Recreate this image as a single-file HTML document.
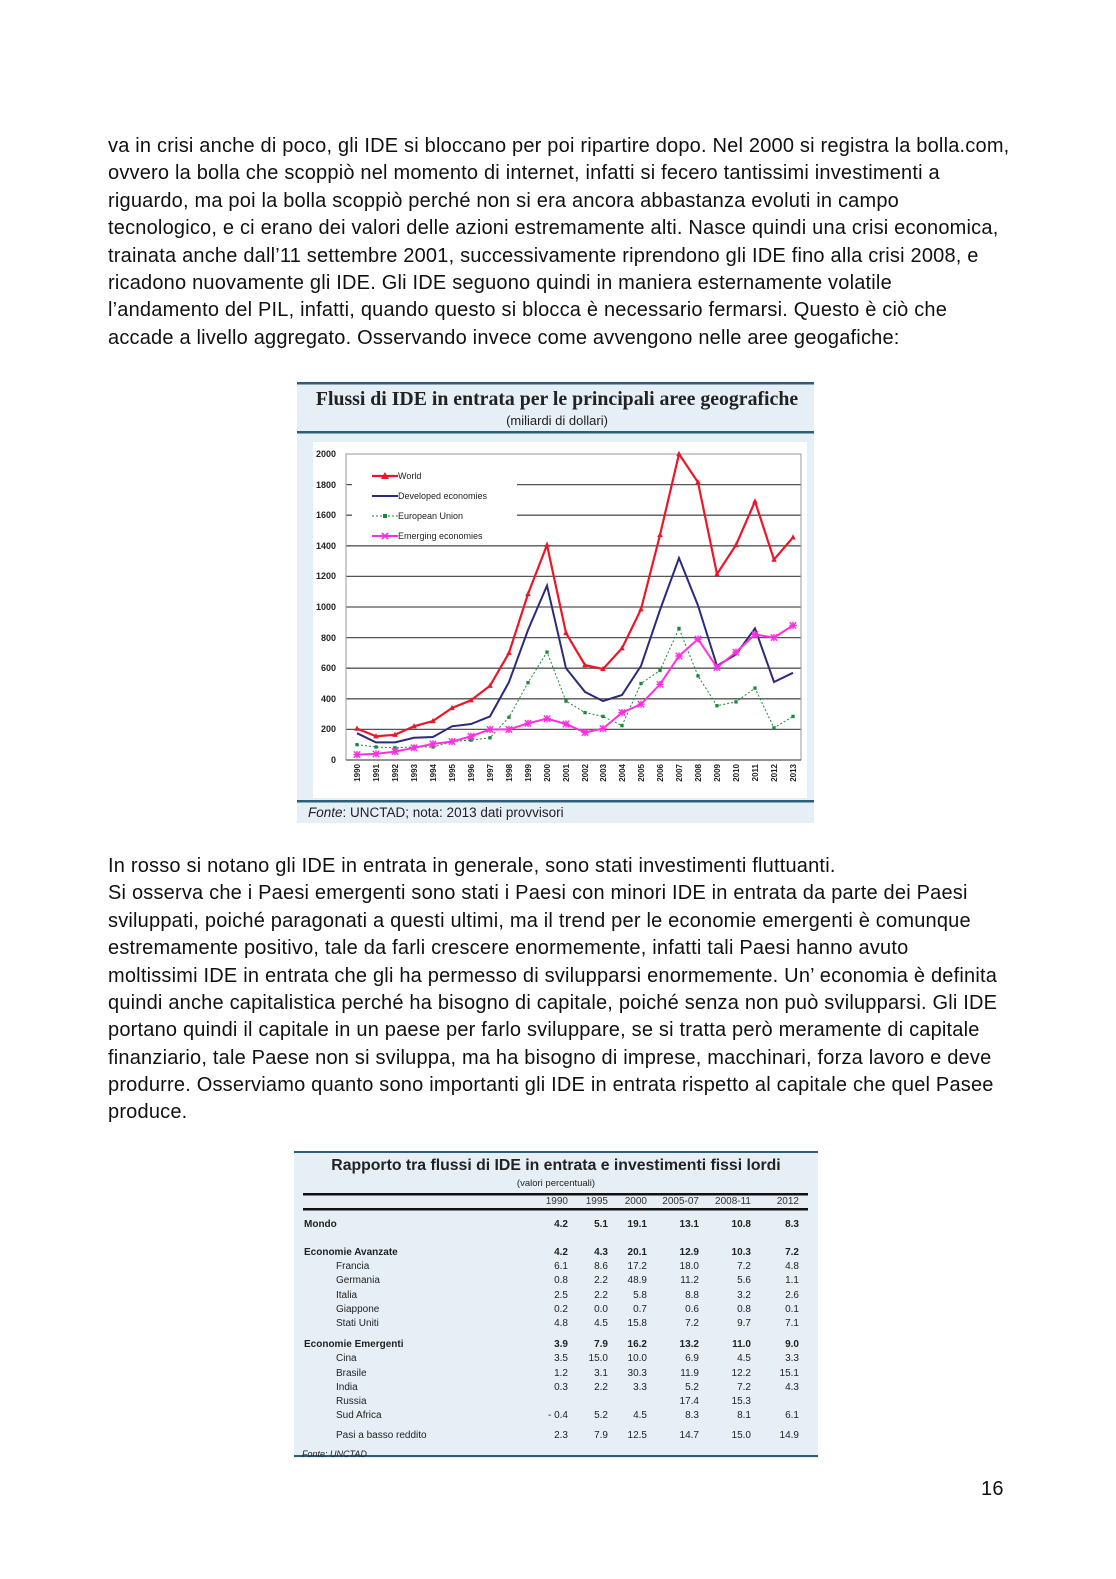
<!DOCTYPE html>
<html><head><meta charset="utf-8">
<style>
body{margin:0;background:#fff;}
#pg{position:relative;width:1116px;height:1579px;overflow:hidden;background:#fff;font-family:"Liberation Sans",sans-serif;}
.t{position:absolute;left:108px;white-space:nowrap;font-size:20px;letter-spacing:0.2px;color:#111;line-height:20px;}
</style></head><body><div id="pg">
<div class="t" style="top:136px">va in crisi anche di poco, gli IDE si bloccano per poi ripartire dopo. Nel 2000 si registra la bolla.com,</div>
<div class="t" style="top:163px">ovvero la bolla che scoppiò nel momento di internet, infatti si fecero tantissimi investimenti a</div>
<div class="t" style="top:191px">riguardo, ma poi la bolla scoppiò perché non si era ancora abbastanza evoluti in campo</div>
<div class="t" style="top:218px">tecnologico, e ci erano dei valori delle azioni estremamente alti. Nasce quindi una crisi economica,</div>
<div class="t" style="top:246px">trainata anche dall’11 settembre 2001, successivamente riprendono gli IDE fino alla crisi 2008, e</div>
<div class="t" style="top:273px">ricadono nuovamente gli IDE. Gli IDE seguono quindi in maniera esternamente volatile</div>
<div class="t" style="top:300px">l’andamento del PIL, infatti, quando questo si blocca è necessario fermarsi. Questo è ciò che</div>
<div class="t" style="top:328px">accade a livello aggregato. Osservando invece come avvengono nelle aree geogafiche:</div>

<div class="t" style="top:856px">In rosso si notano gli IDE in entrata in generale, sono stati investimenti fluttuanti.</div>
<div class="t" style="top:883px">Si osserva che i Paesi emergenti sono stati i Paesi con minori IDE in entrata da parte dei Paesi</div>
<div class="t" style="top:911px">sviluppati, poiché paragonati a questi ultimi, ma il trend per le economie emergenti è comunque</div>
<div class="t" style="top:938px">estremamente positivo, tale da farli crescere enormemente, infatti tali Paesi hanno avuto</div>
<div class="t" style="top:966px">moltissimi IDE in entrata che gli ha permesso di svilupparsi enormemente. Un’ economia è definita</div>
<div class="t" style="top:993px">quindi anche capitalistica perché ha bisogno di capitale, poiché senza non può svilupparsi. Gli IDE</div>
<div class="t" style="top:1020px">portano quindi il capitale in un paese per farlo sviluppare, se si tratta però meramente di capitale</div>
<div class="t" style="top:1048px">finanziario, tale Paese non si sviluppa, ma ha bisogno di imprese, macchinari, forza lavoro e deve</div>
<div class="t" style="top:1075px">produrre. Osserviamo quanto sono importanti gli IDE in entrata rispetto al capitale che quel Pasee</div>
<div class="t" style="top:1102px">produce.</div>
<div class="t" style="top:1479px;left:981px">16</div>

<svg style="position:absolute;left:0;top:0" width="1116" height="1579" xmlns="http://www.w3.org/2000/svg">
<defs>
<marker id="tri" viewBox="-5 -5 10 10" markerWidth="7" markerHeight="7" refX="0" refY="0" markerUnits="userSpaceOnUse"><path d="M0,-4.5 L4,3 L-4,3Z" fill="#e8182a"/></marker>
<marker id="sq" viewBox="-3 -3 6 6" markerWidth="4" markerHeight="4" refX="0" refY="0" markerUnits="userSpaceOnUse"><rect x="-2.5" y="-2.5" width="5" height="5" fill="#1a8a3a"/></marker>
<marker id="st" viewBox="-5 -5 10 10" markerWidth="8" markerHeight="8" refX="0" refY="0" markerUnits="userSpaceOnUse"><path d="M-4,-4L4,4M-4,4L4,-4M0,-4.5V4.5M-4.5,0H4.5" stroke="#ff30e0" stroke-width="1.8"/></marker>
</defs>
<rect x="297" y="383" width="517" height="440" fill="#e6eff6"/>
<rect x="297" y="382" width="517" height="2.5" fill="#2a5f7a"/>
<rect x="297" y="431" width="517" height="2.5" fill="#2a5f7a"/>
<rect x="297" y="800" width="517" height="2.5" fill="#2a5f7a"/>
<rect x="313" y="442" width="494" height="356" fill="#fff"/>
<text x="557" y="405" text-anchor="middle" font-family="Liberation Serif" font-weight="bold" font-size="19.8" fill="#222">Flussi di IDE in entrata per le principali aree geografiche</text>
<text x="557" y="425" text-anchor="middle" font-family="Liberation Sans" font-size="13" fill="#222">(miliardi di dollari)</text>
<text x="308" y="817" font-family="Liberation Sans" font-size="13.5" fill="#222"><tspan font-style="italic">Fonte</tspan>: UNCTAD; nota: 2013 dati provvisori</text>
<g stroke="#555" stroke-width="1.3">
<line x1="346" x2="801" y1="729.4" y2="729.4"/><line x1="346" x2="801" y1="698.8" y2="698.8"/>
<line x1="346" x2="801" y1="668.2" y2="668.2"/><line x1="346" x2="801" y1="637.6" y2="637.6"/>
<line x1="346" x2="801" y1="607" y2="607"/><line x1="346" x2="801" y1="576.4" y2="576.4"/>
<line x1="346" x2="801" y1="545.8" y2="545.8"/><line x1="346" x2="801" y1="515.2" y2="515.2"/>
<line x1="346" x2="801" y1="484.6" y2="484.6"/>
</g>
<rect x="352" y="462" width="165" height="82" fill="#fff"/>
<rect x="346" y="454" width="455" height="306" fill="none" stroke="#999" stroke-width="1"/>
<line x1="346" x2="801" y1="760" y2="760" stroke="#555" stroke-width="1.3"/>
<g font-family="Liberation Sans" font-size="9" fill="#222" text-anchor="end" font-weight="bold">
<text x="336" y="457">2000</text><text x="336" y="488">1800</text><text x="336" y="518">1600</text>
<text x="336" y="549">1400</text><text x="336" y="579">1200</text><text x="336" y="610">1000</text>
<text x="336" y="641">800</text><text x="336" y="671">600</text><text x="336" y="702">400</text>
<text x="336" y="732">200</text><text x="336" y="763">0</text>
</g>
<g font-family="Liberation Sans" font-size="8" font-weight="bold" fill="#222" text-anchor="end">
<text transform="translate(360,764) rotate(-90)">1990</text><text transform="translate(379,764) rotate(-90)">1991</text>
<text transform="translate(398,764) rotate(-90)">1992</text><text transform="translate(417,764) rotate(-90)">1993</text>
<text transform="translate(436,764) rotate(-90)">1994</text><text transform="translate(455,764) rotate(-90)">1995</text>
<text transform="translate(474,764) rotate(-90)">1996</text><text transform="translate(493,764) rotate(-90)">1997</text>
<text transform="translate(512,764) rotate(-90)">1998</text><text transform="translate(531,764) rotate(-90)">1999</text>
<text transform="translate(550,764) rotate(-90)">2000</text><text transform="translate(569,764) rotate(-90)">2001</text>
<text transform="translate(588,764) rotate(-90)">2002</text><text transform="translate(606,764) rotate(-90)">2003</text>
<text transform="translate(625,764) rotate(-90)">2004</text><text transform="translate(644,764) rotate(-90)">2005</text>
<text transform="translate(663,764) rotate(-90)">2006</text><text transform="translate(682,764) rotate(-90)">2007</text>
<text transform="translate(701,764) rotate(-90)">2008</text><text transform="translate(720,764) rotate(-90)">2009</text>
<text transform="translate(739,764) rotate(-90)">2010</text><text transform="translate(758,764) rotate(-90)">2011</text>
<text transform="translate(777,764) rotate(-90)">2012</text><text transform="translate(796,764) rotate(-90)">2013</text>
</g>
<polyline fill="none" stroke="#1a8a3a" stroke-width="1" stroke-dasharray="2,2" marker-start="url(#sq)" marker-mid="url(#sq)" marker-end="url(#sq)" points="357,744.7 376,747 395,747.8 414,747 433,747 452,741.6 471,740.1 490,737.8 509,717.2 528,682.7 547,652.1 566,701.1 585,712.6 603,716.4 622,725.6 641,683.5 660,670.5 679,628.4 698,675.9 717,705.7 736,701.9 755,688.1 774,727.9 793,716.4"/>
<polyline fill="none" stroke="#2e2a7a" stroke-width="2" points="357,733.2 376,742.4 395,742.4 414,737.8 433,737 452,726.3 471,724 490,716.4 509,682 528,630 547,585.6 566,668.2 585,691.9 603,701.1 622,695 641,665.9 660,610 679,558 698,605.5 717,665.9 736,654.4 755,628.4 774,682 793,672.8"/>
<polyline fill="none" stroke="#ff30e0" stroke-width="2" marker-start="url(#st)" marker-mid="url(#st)" marker-end="url(#st)" points="357,754.6 376,753.9 395,751.6 414,747.8 433,743.9 452,741.6 471,736.3 490,729.4 509,729.4 528,723.3 547,718.7 566,724 585,732.5 603,728.6 622,712.6 641,704.2 660,684.3 679,656 698,639.1 717,667.4 736,652.1 755,634.5 774,637.6 793,625.4"/>
<polyline fill="none" stroke="#e8182a" stroke-width="2.2" marker-start="url(#tri)" marker-mid="url(#tri)" marker-end="url(#tri)" points="357,728.6 376,736.3 395,734.8 414,726.3 433,721 452,708 471,700.3 490,685.8 509,652.9 528,594 547,545 566,633 585,665.1 603,669 622,648.3 641,609.3 660,535 679,454 698,482.3 717,574.1 736,545 755,501.4 774,559.6 793,537.4"/>
<line x1="372" x2="398" y1="476" y2="476" stroke="#e8182a" stroke-width="2.2"/><path d="M385,472L389,479L381,479Z" fill="#e8182a"/>
<line x1="372" x2="398" y1="496" y2="496" stroke="#2e2a7a" stroke-width="2"/>
<line x1="372" x2="398" y1="516" y2="516" stroke="#1a8a3a" stroke-width="1" stroke-dasharray="2,2"/><rect x="383" y="514" width="4" height="4" fill="#1a8a3a"/>
<line x1="372" x2="398" y1="536" y2="536" stroke="#ff30e0" stroke-width="2"/><path d="M382,533L388,539M382,539L388,533" stroke="#ff30e0" stroke-width="1.8"/>
<g font-family="Liberation Sans" font-size="9" fill="#222">
<text x="398" y="479">World</text><text x="398" y="499">Developed economies</text>
<text x="398" y="519">European Union</text><text x="398" y="539">Emerging economies</text>
</g>

<rect x="294" y="1152" width="524" height="306" fill="#e6eff6"/>
<rect x="294" y="1151" width="524" height="2" fill="#2a5f7a"/>
<rect x="294" y="1455" width="524" height="2" fill="#2a5f7a"/>
<text x="556" y="1170" text-anchor="middle" font-family="Liberation Sans" font-weight="bold" font-size="15.8" fill="#222">Rapporto tra flussi di IDE in entrata e investimenti fissi lordi</text>
<text x="556" y="1186" text-anchor="middle" font-family="Liberation Sans" font-size="9.5" fill="#222">(valori percentuali)</text>
<rect x="303" y="1193" width="505" height="2.5" fill="#111"/>
<rect x="303" y="1208" width="505" height="2.5" fill="#111"/>
<g font-family="Liberation Sans" font-size="10" fill="#333" text-anchor="end">
<text x="568" y="1204">1990</text><text x="608" y="1204">1995</text><text x="647" y="1204">2000</text><text x="699" y="1204">2005-07</text><text x="751" y="1204">2008-11</text><text x="799" y="1204">2012</text>
</g>
<g font-family="Liberation Sans" font-size="10" fill="#222">
<text x="304" y="1227" font-weight="bold">Mondo</text>
<text x="304" y="1255" font-weight="bold">Economie Avanzate</text>
<text x="336" y="1269">Francia</text><text x="336" y="1283">Germania</text><text x="336" y="1298">Italia</text>
<text x="336" y="1312">Giappone</text><text x="336" y="1326">Stati Uniti</text>
<text x="304" y="1347" font-weight="bold">Economie Emergenti</text>
<text x="336" y="1361">Cina</text><text x="336" y="1376">Brasile</text><text x="336" y="1390">India</text>
<text x="336" y="1404">Russia</text><text x="336" y="1418">Sud Africa</text><text x="336" y="1438">Pasi a basso reddito</text>
<text x="302" y="1457" font-size="9" font-style="italic">Fonte: UNCTAD</text>
</g>
<g font-family="Liberation Sans" font-size="10" fill="#222" text-anchor="end">
<g font-weight="bold"><text x="568" y="1227">4.2</text><text x="608" y="1227">5.1</text><text x="647" y="1227">19.1</text><text x="699" y="1227">13.1</text><text x="751" y="1227">10.8</text><text x="799" y="1227">8.3</text>
<text x="568" y="1255">4.2</text><text x="608" y="1255">4.3</text><text x="647" y="1255">20.1</text><text x="699" y="1255">12.9</text><text x="751" y="1255">10.3</text><text x="799" y="1255">7.2</text>
<text x="568" y="1347">3.9</text><text x="608" y="1347">7.9</text><text x="647" y="1347">16.2</text><text x="699" y="1347">13.2</text><text x="751" y="1347">11.0</text><text x="799" y="1347">9.0</text></g>
<text x="568" y="1269">6.1</text><text x="608" y="1269">8.6</text><text x="647" y="1269">17.2</text><text x="699" y="1269">18.0</text><text x="751" y="1269">7.2</text><text x="799" y="1269">4.8</text>
<text x="568" y="1283">0.8</text><text x="608" y="1283">2.2</text><text x="647" y="1283">48.9</text><text x="699" y="1283">11.2</text><text x="751" y="1283">5.6</text><text x="799" y="1283">1.1</text>
<text x="568" y="1298">2.5</text><text x="608" y="1298">2.2</text><text x="647" y="1298">5.8</text><text x="699" y="1298">8.8</text><text x="751" y="1298">3.2</text><text x="799" y="1298">2.6</text>
<text x="568" y="1312">0.2</text><text x="608" y="1312">0.0</text><text x="647" y="1312">0.7</text><text x="699" y="1312">0.6</text><text x="751" y="1312">0.8</text><text x="799" y="1312">0.1</text>
<text x="568" y="1326">4.8</text><text x="608" y="1326">4.5</text><text x="647" y="1326">15.8</text><text x="699" y="1326">7.2</text><text x="751" y="1326">9.7</text><text x="799" y="1326">7.1</text>
<text x="568" y="1361">3.5</text><text x="608" y="1361">15.0</text><text x="647" y="1361">10.0</text><text x="699" y="1361">6.9</text><text x="751" y="1361">4.5</text><text x="799" y="1361">3.3</text>
<text x="568" y="1376">1.2</text><text x="608" y="1376">3.1</text><text x="647" y="1376">30.3</text><text x="699" y="1376">11.9</text><text x="751" y="1376">12.2</text><text x="799" y="1376">15.1</text>
<text x="568" y="1390">0.3</text><text x="608" y="1390">2.2</text><text x="647" y="1390">3.3</text><text x="699" y="1390">5.2</text><text x="751" y="1390">7.2</text><text x="799" y="1390">4.3</text>
<text x="699" y="1404">17.4</text><text x="751" y="1404">15.3</text>
<text x="568" y="1418">- 0.4</text><text x="608" y="1418">5.2</text><text x="647" y="1418">4.5</text><text x="699" y="1418">8.3</text><text x="751" y="1418">8.1</text><text x="799" y="1418">6.1</text>
<text x="568" y="1438">2.3</text><text x="608" y="1438">7.9</text><text x="647" y="1438">12.5</text><text x="699" y="1438">14.7</text><text x="751" y="1438">15.0</text><text x="799" y="1438">14.9</text>
</g>
</svg>
</div></body></html>
